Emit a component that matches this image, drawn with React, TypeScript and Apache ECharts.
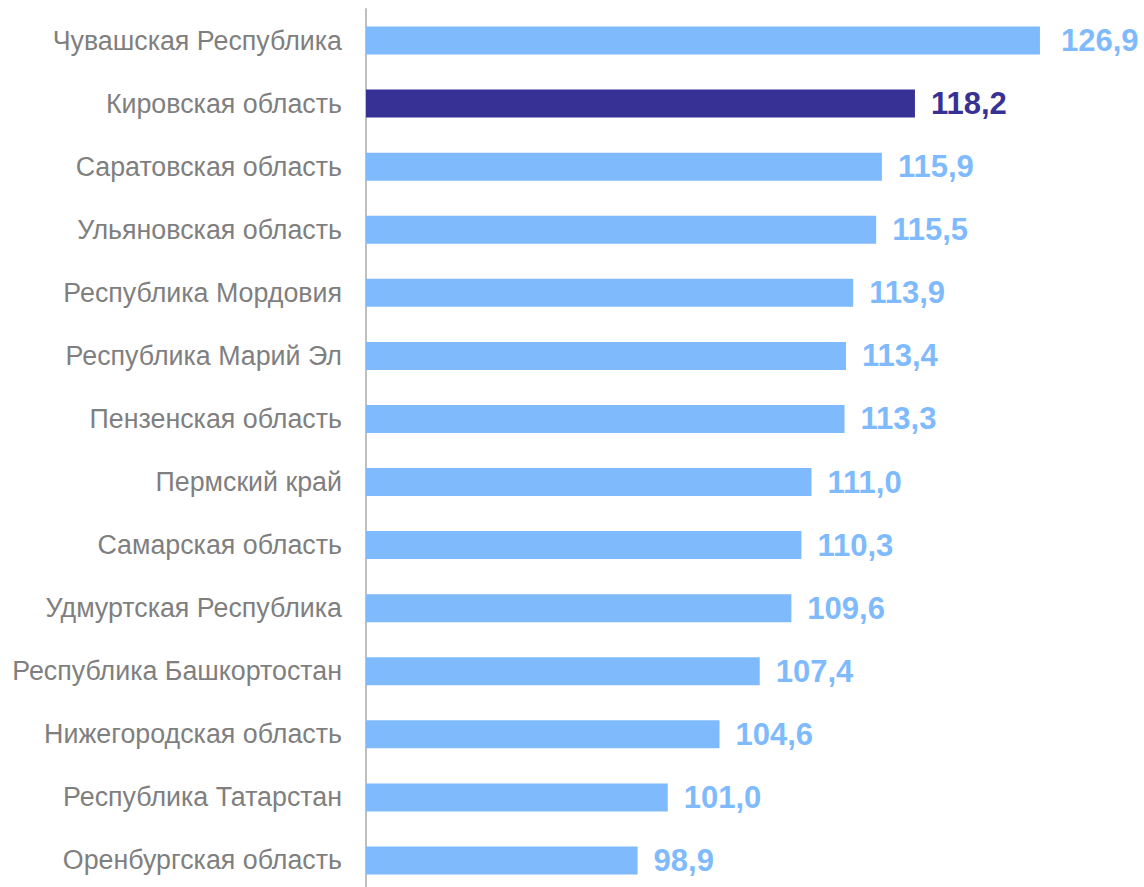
import React, { useEffect, useRef } from "react";
import * as echarts from "echarts";

const categories = [
  "Чувашская Республика",
  "Кировская область",
  "Саратовская область",
  "Ульяновская область",
  "Республика Мордовия",
  "Республика Марий Эл",
  "Пензенская область",
  "Пермский край",
  "Самарская область",
  "Удмуртская Республика",
  "Республика Башкортостан",
  "Нижегородская область",
  "Республика Татарстан",
  "Оренбургская область",
];
const values = [126.9, 118.2, 115.9, 115.5, 113.9, 113.4, 113.3, 111.0, 110.3, 109.6, 107.4, 104.6, 101.0, 98.9];
const highlighted = "Кировская область";

const LIGHT = "#7fbbfc";
const DARK = "#373195";

export default function App() {
  const ref = useRef<HTMLDivElement>(null);
  useEffect(() => {
    const chart = echarts.init(ref.current!, null, { renderer: "svg" });
    chart.setOption({
      animation: false,
      grid: { left: 366, right: 2, top: 9, height: 883, containLabel: false },
      xAxis: {
        type: "value",
        min: 80,
        max: 134,
        show: false,
      },
      yAxis: {
        type: "category",
        data: categories,
        inverse: true,
        axisLine: { show: true, lineStyle: { color: "#bfbfbf", width: 2 } },
        axisTick: { show: false },
        axisLabel: {
          color: "#7f7f7f",
          fontSize: 26.8,
          fontFamily: "Liberation Sans, Arial, sans-serif",
          margin: 24,
        },
        splitLine: { show: false },
      },
      series: [
        {
          type: "bar",
          barWidth: 28,
          data: values.map((v, i) => {
            const isH = categories[i] === highlighted;
            return {
              value: v,
              itemStyle: { color: isH ? DARK : LIGHT },
              label: { color: isH ? DARK : LIGHT, distance: i === 0 ? 21 : 16 },
            };
          }),
          label: {
            show: true,
            position: "right",
            distance: 16,
            fontSize: 31,
            fontWeight: "bold",
            fontFamily: "Liberation Sans, Arial, sans-serif",
            formatter: (p: any) => p.value.toFixed(1).replace(".", ","),
          },
        },
      ],
    });
    return () => chart.dispose();
  }, []);
  return (
    <div
      style={{ position: "absolute", left: 0, top: 0, width: 1144, height: 887, overflow: "hidden", background: "#fff" }}
    >
      <div ref={ref} style={{ width: 1144, height: 900 }} />
    </div>
  );
}
